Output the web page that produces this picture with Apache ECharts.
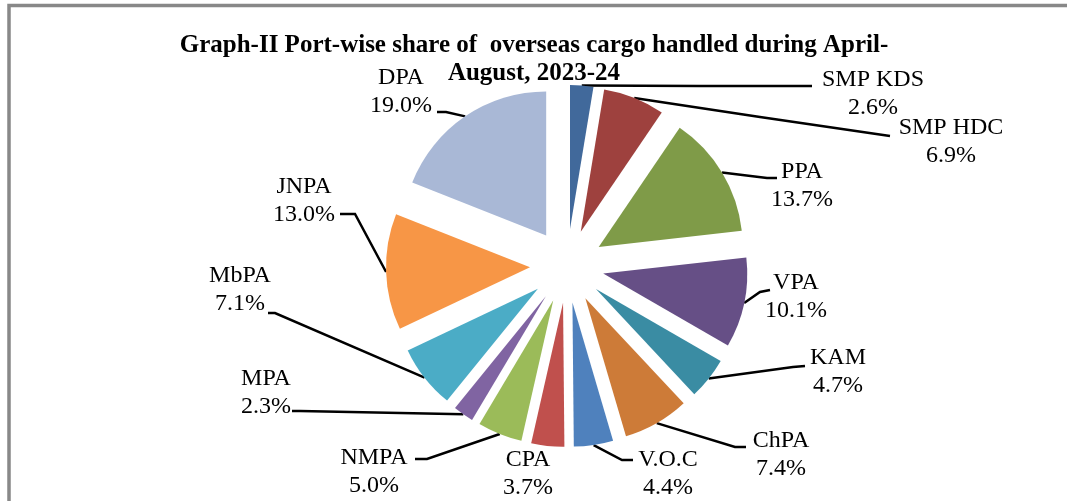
<!DOCTYPE html>
<html>
<head>
<meta charset="utf-8">
<script src="https://cdn.jsdelivr.net/npm/echarts@6/dist/echarts.min.js"></script>
<style>
html,body{margin:0;padding:0;background:#fff;}
#c{width:1067px;height:501px;}
</style>
</head>
<body>
<div id="c"></div>
<script>
// ---- data ----
var categories = ['SMP KDS','SMP HDC','PPA','VPA','KAM','ChPA','V.O.C','CPA','NMPA','MPA','MbPA','JNPA','DPA'];
var shares = [2.6, 6.9, 13.7, 10.1, 4.7, 7.4, 4.4, 3.7, 5.0, 2.3, 7.1, 13.0, 19.0];
var titleLines = ['Graph-II Port-wise share of  overseas cargo handled during April-', 'August, 2023-24'];

// ---- styles / layout (not data) ----
var colors = ['#41699B','#9E413E','#7F9B48','#664F86','#3A8CA3','#CD7B38','#4F81BD','#C0504D','#9BBB59','#8064A2','#4BACC6','#F79646','#A9B8D6'];
var EXPLODE = 37;
// label block: [centre x, centre y of first line]
var labelPos = [
  [873, 80], [951, 128], [802, 172], [796, 283], [838, 358], [781, 441],
  [668, 460], [528, 460], [374, 458], [266, 379], [240, 276], [304, 187], [401, 78]
];
// leader line bend + end points (null = no leader line)
var leaderPts = [
  [[700, 86], [812, 86]],
  [[760, 117], [890, 136]],
  [[767, 178], [777, 178]],
  [[760, 292], [770, 290]],
  [[793, 367], [805, 366]],
  [[735, 447], [746, 447]],
  [[622, 460], [633, 460]],
  null,
  [[427, 459], [415, 459]],
  [[300, 411], [292, 411]],
  [[275, 313], [268, 313]],
  [[355, 214], [340, 214]],
  [[446, 112], [437, 112]]
];

var total = shares.reduce(function (a, b) { return a + b; }, 0);
var selVec = [];
(function () {
  var cum = 0;
  shares.forEach(function (v) {
    var a = (cum + v / 2) / total * 2 * Math.PI;
    selVec.push([Math.sin(a) * EXPLODE, -Math.cos(a) * EXPLODE]);
    cum += v;
  });
})();

var chart = echarts.init(document.getElementById('c'));
var dataItems = categories.map(function (n, i) {
  var item = { name: n, value: shares[i], selected: true, itemStyle: { color: colors[i] } };
  if (!leaderPts[i]) item.labelLine = { show: false };
  return item;
});

chart.setOption({
  animation: false,
  backgroundColor: '#fff',
  title: {
    text: titleLines.join('\n'), left: 534, top: 32, textAlign: 'center', padding: 0,
    textStyle: { fontFamily: 'Liberation Serif', fontWeight: 'bold', fontSize: 25, lineHeight: 28, color: '#000' }
  },
  graphic: [{
    type: 'rect', silent: true, z: 100,
    shape: { x: 9, y: 5.5, width: 1200, height: 800 },
    style: { fill: 'none', stroke: '#888', lineWidth: 3.5 }
  }],
  series: [{
    type: 'pie',
    center: [567, 266],
    radius: 144,
    startAngle: 90,
    clockwise: true,
    selectedMode: 'multiple',
    selectedOffset: EXPLODE,
    avoidLabelOverlap: false,
    itemStyle: { borderWidth: 0 },
    emphasis: { disabled: true },
    label: {
      show: true,
      fontFamily: 'Liberation Serif',
      fontSize: 24,
      lineHeight: 28,
      color: '#000',
      formatter: function (p) { return p.name + '\n' + p.value.toFixed(1) + '%'; }
    },
    labelLine: { show: true, length: 10, length2: 10, lineStyle: { color: '#000', width: 2.5 } },
    labelLayout: function (p) {
      var i = p.dataIndex;
      var pos = labelPos[i], s = selVec[i], r = p.labelRect;
      var ax = p.align === 'left' ? r.x : (p.align === 'right' ? r.x + r.width : r.x + r.width / 2);
      var ay = p.verticalAlign === 'top' ? r.y : (p.verticalAlign === 'bottom' ? r.y + r.height : r.y + r.height / 2);
      var res = {
        align: 'center', verticalAlign: 'top',
        dx: pos[0] - ax - s[0],
        dy: (pos[1] - 14) - ay - s[1]
      };
      if (leaderPts[i] && p.labelLinePoints) {
        var pts = [[p.labelLinePoints[0][0], p.labelLinePoints[0][1]]];
        leaderPts[i].forEach(function (q) { pts.push([q[0] - s[0], q[1] - s[1]]); });
        res.labelLinePoints = pts;
      }
      return res;
    },
    data: dataItems
  }]
});
</script>
</body>
</html>
